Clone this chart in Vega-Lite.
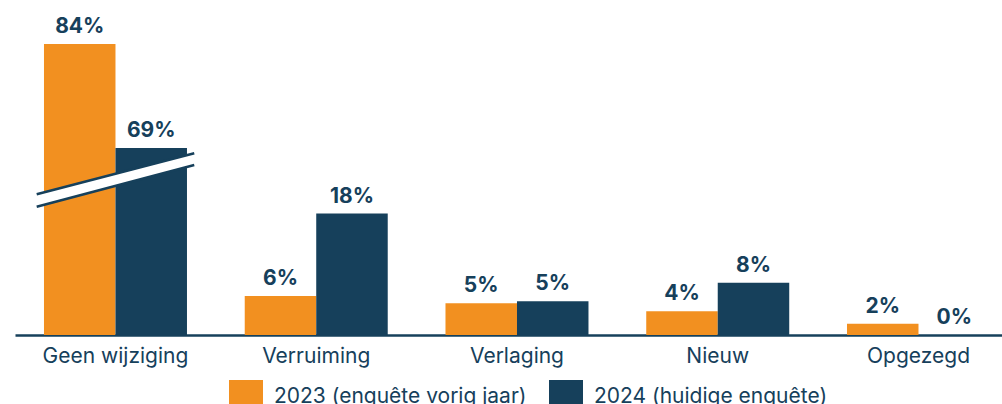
{
  "$schema": "https://vega.github.io/schema/vega-lite/v6.json",
  "width": 987,
  "height": 335,
  "autosize": {"type": "none"},
  "padding": {"left": 15, "top": 0, "right": 0, "bottom": 69},
  "background": "white",
  "config": {"view": {"stroke": null}, "font": "Inter"},
  "layer": [
    {
      "data": {
        "values": [
          {"categorie": "Geen wijziging", "jaar": "2023 (enquête vorig jaar)", "aandeel": 0.84},
          {"categorie": "Geen wijziging", "jaar": "2024 (huidige enquête)", "aandeel": 0.69},
          {"categorie": "Verruiming", "jaar": "2023 (enquête vorig jaar)", "aandeel": 0.059},
          {"categorie": "Verruiming", "jaar": "2024 (huidige enquête)", "aandeel": 0.184},
          {"categorie": "Verlaging", "jaar": "2023 (enquête vorig jaar)", "aandeel": 0.048},
          {"categorie": "Verlaging", "jaar": "2024 (huidige enquête)", "aandeel": 0.051},
          {"categorie": "Nieuw", "jaar": "2023 (enquête vorig jaar)", "aandeel": 0.036},
          {"categorie": "Nieuw", "jaar": "2024 (huidige enquête)", "aandeel": 0.079},
          {"categorie": "Opgezegd", "jaar": "2023 (enquête vorig jaar)", "aandeel": 0.017},
          {"categorie": "Opgezegd", "jaar": "2024 (huidige enquête)", "aandeel": 0.0}
        ]
      },
      "encoding": {
        "x": {
          "field": "categorie",
          "type": "nominal",
          "sort": null,
          "scale": {
            "domain": ["Geen wijziging", "Verruiming", "Verlaging", "Nieuw", "Opgezegd"],
            "paddingInner": 0.2877,
            "paddingOuter": 0.1021,
            "align": 0.707
          },
          "axis": {
            "title": null,
            "labelAngle": 0,
            "ticks": false,
            "domainColor": "#16405B",
            "domainWidth": 2.5,
            "labelFontSize": 21,
            "labelColor": "#16405B",
            "labelPadding": 10,
            "labelFont": "Inter"
          }
        },
        "xOffset": {
          "field": "jaar",
          "type": "nominal",
          "sort": null,
          "scale": {"domain": ["2023 (enquête vorig jaar)", "2024 (huidige enquête)"]}
        },
        "y": {
          "field": "aandeel",
          "type": "quantitative",
          "scale": {
            "domain": [0, 0.2, 0.62, 1],
            "range": [335, 203, 196.53, -66.9],
            "nice": false,
            "zero": false
          },
          "axis": null
        }
      },
      "layer": [
        {
          "mark": {"type": "bar"},
          "encoding": {
            "color": {
              "field": "jaar",
              "type": "nominal",
              "scale": {
                "domain": ["2023 (enquête vorig jaar)", "2024 (huidige enquête)"],
                "range": ["#F29020", "#16405B"]
              },
              "legend": {
                "orient": "none",
                "legendX": 214,
                "legendY": 380,
                "direction": "horizontal",
                "title": null,
                "symbolType": "square",
                "symbolSize": 1156,
                "symbolStrokeWidth": 0,
                "symbolOpacity": 1,
                "labelFontSize": 21,
                "labelColor": "#16405B",
                "labelFont": "Inter",
                "labelOffset": 11,
                "columnPadding": 22,
                "labelLimit": 400
              }
            }
          }
        },
        {
          "mark": {
            "type": "text",
            "fontWeight": "bold",
            "fontSize": 21,
            "font": "Inter",
            "color": "#16405B",
            "baseline": "alphabetic",
            "dy": -11
          },
          "encoding": {
            "text": {"field": "aandeel", "type": "quantitative", "format": ".0%"}
          }
        }
      ]
    },
    {
      "data": {"values": [{"categorie": "Geen wijziging", "begin": 0.362, "eind": 0.6738}]},
      "mark": {"type": "rule", "color": "white", "strokeWidth": 11, "strokeCap": "butt"},
      "encoding": {
        "x": {"field": "categorie", "type": "nominal", "bandPosition": -0.051},
        "x2": {"field": "categorie", "bandPosition": 1.051},
        "y": {"field": "begin", "type": "quantitative"},
        "y2": {"field": "eind"}
      }
    },
    {
      "data": {
        "values": [
          {"categorie": "Geen wijziging", "begin": 0.6232, "eind": 0.6824},
          {"categorie": "Geen wijziging", "begin": 0.1944, "eind": 0.6655}
        ]
      },
      "mark": {"type": "rule", "color": "#16405B", "strokeWidth": 2.5, "strokeCap": "butt"},
      "encoding": {
        "x": {"field": "categorie", "type": "nominal", "bandPosition": -0.051},
        "x2": {"field": "categorie", "bandPosition": 1.051},
        "y": {"field": "begin", "type": "quantitative"},
        "y2": {"field": "eind"}
      }
    }
  ]
}
